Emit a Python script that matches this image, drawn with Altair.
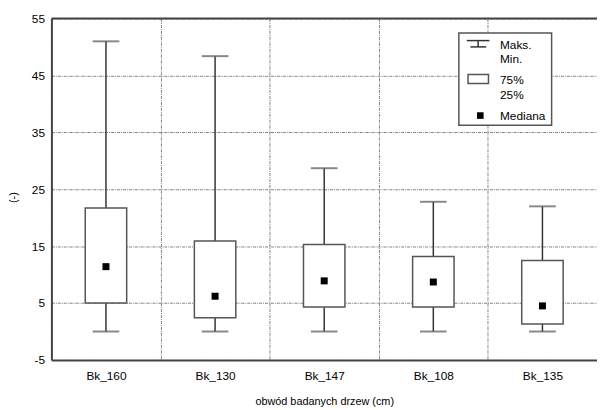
import altair as alt
import pandas as pd

categories = ["Bk_160", "Bk_130", "Bk_147", "Bk_108", "Bk_135"]
maks = [51.0, 48.4, 28.7, 22.8, 22.0]
mins = [0.0, 0.0, 0.0, 0.0, 0.0]
q75 = [21.7, 15.9, 15.3, 13.2, 12.5]
q25 = [5.0, 2.4, 4.3, 4.3, 1.3]
mediana = [11.4, 6.2, 8.9, 8.7, 4.5]
y_ticks = [-5, 5, 15, 25, 35, 45, 55]

df = pd.DataFrame({"cat": categories, "maks": maks, "min": mins,
                   "q75": q75, "q25": q25, "med": mediana})
one = pd.DataFrame({"k": [0]})

W, H = 553, 346
FONT = "Liberation Sans"
GRID = "#808080"
EDGE = "#444444"

xscale = alt.Scale(domain=categories, paddingInner=0, paddingOuter=0)
yscale = alt.Scale(domain=[-5, 55], nice=False, zero=False)

x_axis = alt.Axis(title="obwód badanych drzew (cm)", grid=True, tickBand="extent",
                  gridColor=GRID, gridDash=[3, 1, 1, 1], gridWidth=1,
                  ticks=False, domainColor=EDGE, domainWidth=2,
                  labelFont=FONT, labelFontSize=12, labelColor="black",
                  labelAngle=0, labelPadding=11,
                  titleFont=FONT, titleFontSize=11, titleFontWeight="normal",
                  titleColor="black", titleY=42, titleBaseline="middle")
y_axis = alt.Axis(title="(-)", values=y_ticks, grid=True,
                  labelExpr="'' + datum.value",
                  gridColor=GRID, gridDash=[3, 1, 1, 1], gridWidth=1,
                  ticks=False, domainColor=EDGE, domainWidth=2,
                  labelFont=FONT, labelFontSize=12, labelColor="black",
                  labelPadding=7,
                  titleFont=FONT, titleFontSize=11, titleFontWeight="normal",
                  titleColor="black", titleAngle=270, titleAlign="center",
                  titleBaseline="middle", titleX=-38, titleY=181)

base = alt.Chart(df)

whisker = base.mark_rule(color="#333333", strokeWidth=1.5).encode(
    x=alt.X("cat:N", scale=xscale, axis=x_axis, sort=categories),
    y=alt.Y("min:Q", scale=yscale, axis=y_axis),
    y2="maks:Q")

box = base.mark_bar(size=42, fill="white", stroke="#555555", strokeWidth=1.5).encode(
    x=alt.X("cat:N", scale=xscale, sort=categories),
    y=alt.Y("q25:Q", scale=yscale),
    y2="q75:Q")

cap_max = base.mark_tick(size=27, thickness=2, color="#555555").encode(
    x=alt.X("cat:N", scale=xscale, sort=categories),
    y=alt.Y("maks:Q", scale=yscale))
cap_min = base.mark_tick(size=27, thickness=2, color="#555555").encode(
    x=alt.X("cat:N", scale=xscale, sort=categories),
    y=alt.Y("min:Q", scale=yscale))

med = base.mark_square(size=50, color="black", opacity=1).encode(
    x=alt.X("cat:N", scale=xscale, sort=categories),
    y=alt.Y("med:Q", scale=yscale))

ob = alt.Chart(one)
top_border = ob.mark_rule(color=EDGE, strokeWidth=2).encode(
    x=alt.value(0), x2=alt.value(W), y=alt.value(0))

# legend
leg_box = ob.mark_rect(fill="white", stroke="#555555", strokeWidth=1.5).encode(
    x=alt.value(413), x2=alt.value(507), y=alt.value(14.7), y2=alt.value(108))
leg_t1 = ob.mark_rule(color="#333333", strokeWidth=1.5).encode(
    x=alt.value(421), x2=alt.value(444), y=alt.value(22.3))
leg_t2 = ob.mark_rule(color="#333333", strokeWidth=1.5).encode(
    x=alt.value(432.5), y=alt.value(22.3), y2=alt.value(28.7))
leg_t3 = ob.mark_rule(color="#333333", strokeWidth=1.5).encode(
    x=alt.value(424.7), x2=alt.value(440.7), y=alt.value(28.7))
leg_rect = ob.mark_rect(fill="white", stroke="#555555", strokeWidth=1.5).encode(
    x=alt.value(422.3), x2=alt.value(443), y=alt.value(56.7), y2=alt.value(65.7))
leg_sq = ob.mark_square(size=45, color="black", opacity=1).encode(
    x=alt.value(434.7), y=alt.value(98.3))

legend_texts = [("Maks.", 27), ("Min.", 41), ("75%", 62.3), ("25%", 77.3), ("Mediana", 99)]
leg_text_layers = [
    ob.mark_text(align="left", baseline="middle", font=FONT, fontSize=12, color="black").encode(
        x=alt.value(454.7), y=alt.value(yy), text=alt.value(t))
    for t, yy in legend_texts
]

chart = alt.layer(
    whisker, box, cap_max, cap_min, med, top_border,
    leg_box, leg_t1, leg_t2, leg_t3, leg_rect, leg_sq, *leg_text_layers
).properties(
    width=W, height=H,
    autosize=alt.AutoSizeParams(type="none"),
    padding={"left": 44, "top": 8, "right": 0, "bottom": 48},
    background="white",
).configure_view(stroke=None)

chart.save("out.html", embed_options={"renderer": "svg", "actions": False})
